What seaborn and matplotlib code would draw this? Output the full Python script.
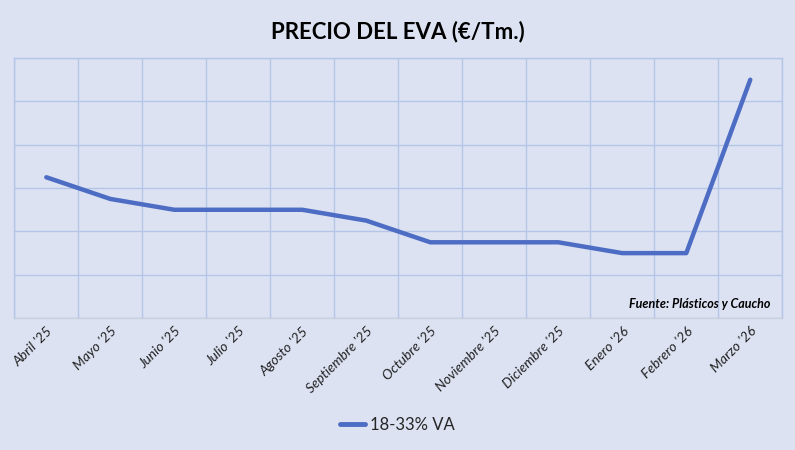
import matplotlib.pyplot as plt
from matplotlib.ticker import FixedLocator, MultipleLocator
import numpy as np
import pandas as pd
import seaborn as sns

meses = ["Abril '25", "Mayo '25", "Junio '25", "Julio '25", "Agosto '25",
         "Septiembre '25", "Octubre '25", "Noviembre '25", "Diciembre '25",
         "Enero '26", "Febrero '26", "Marzo '26"]
precio = [1725, 1675, 1650, 1650, 1650, 1625, 1575, 1575, 1575, 1550, 1550, 1950]
serie = "18-33% VA"

bg = "#dce2f2"
grid_c = "#b4c5e8"
line_c = "#4d6cc3"

sns.set_theme(style="white")
plt.rcParams['font.family'] = ['Lato', 'DejaVu Sans']

df = pd.DataFrame({"mes": meses, "precio": precio, "serie": serie})

fig, ax = plt.subplots(figsize=(7.95, 4.5), dpi=100)
fig.patch.set_facecolor(bg)
ax.set_facecolor(bg)
fig.subplots_adjust(left=0.018, right=0.984, top=0.871, bottom=0.293)

sns.lineplot(data=df, x="mes", y="precio", hue="serie", palette=[line_c],
             linewidth=3.2, ax=ax, sort=False, legend=True)

ax.set_xlim(-0.5, len(meses) - 0.5)
ax.set_ylim(1400, 2000)
ax.yaxis.set_major_locator(MultipleLocator(100))
ax.set_yticklabels([])
ax.tick_params(axis='y', length=0)
ax.xaxis.set_minor_locator(FixedLocator(np.arange(-0.5, len(meses), 1.0)))
ax.grid(False)
ax.grid(axis='y', which='major', color=grid_c, linewidth=1.0)
ax.grid(axis='x', which='minor', color=grid_c, linewidth=1.0)
ax.tick_params(axis='x', which='both', length=0, pad=5)
for s in ax.spines.values():
    s.set_color(grid_c)
    s.set_linewidth(1.0)
ax.spines['bottom'].set_color("#c8cfdd")

ax.set_xticks(range(len(meses)))
ax.set_xticklabels(meses, rotation=45, ha='right', rotation_mode='anchor',
                   fontsize=10, style='italic', color='#222222')
ax.set_xlabel("")
ax.set_ylabel("")

fig.suptitle("PRECIO DEL EVA (€/Tm.)", fontsize=16, fontweight='bold',
             y=0.955, color='black')

ax.text(0.985, 0.055, "Fuente: Plásticos y Caucho", transform=ax.transAxes,
        ha='right', va='center', fontsize=9, style='italic',
        fontweight='bold', color='black')

handles, labels = ax.get_legend_handles_labels()
ax.legend(handles, labels, loc='center', bbox_to_anchor=(0.5, 0.055),
          bbox_transform=fig.transFigure, frameon=False, fontsize=12,
          handlelength=1.5, handletextpad=0.3)
for h in ax.get_legend().get_lines():
    h.set_linewidth(3.5)

fig.savefig("out.png", dpi=100, facecolor=bg)
